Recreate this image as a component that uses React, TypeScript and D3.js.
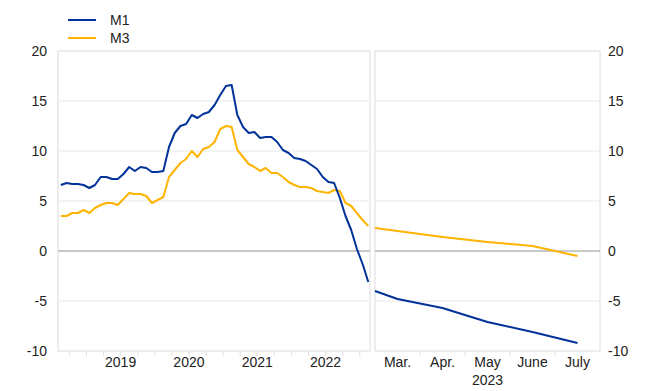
import React from 'react';
import * as d3 from 'd3';

// monthly annual growth rates, Aug 2018 - Feb 2023
const m1Monthly = [
  6.6, 6.8, 6.7, 6.7, 6.6,
  6.3, 6.6, 7.4, 7.4, 7.2, 7.2, 7.7, 8.4, 8.0, 8.4, 8.3, 7.9,
  7.9, 8.0, 10.4, 11.8, 12.5, 12.7, 13.6, 13.3, 13.7, 13.9, 14.6, 15.6,
  16.5, 16.6, 13.6, 12.4, 11.8, 11.9, 11.3, 11.4, 11.4, 10.9, 10.1, 9.8,
  9.3, 9.2, 9.0, 8.6, 8.2, 7.4, 6.9, 6.8, 5.3, 3.5, 2.1, 0.2,
  -1.3, -3.1,
];
const m3Monthly = [
  3.5, 3.5, 3.8, 3.8, 4.1,
  3.8, 4.3, 4.6, 4.8, 4.8, 4.6, 5.2, 5.8, 5.7, 5.7, 5.5, 4.8,
  5.1, 5.4, 7.4, 8.1, 8.8, 9.2, 10.0, 9.4, 10.2, 10.4, 10.9, 12.2,
  12.5, 12.4, 10.1, 9.4, 8.7, 8.4, 8.0, 8.3, 7.8, 7.8, 7.4, 6.9,
  6.6, 6.4, 6.4, 6.3, 6.0, 5.9, 5.8, 6.1, 6.0, 4.8, 4.5, 3.8,
  3.1, 2.5,
];
const years = ['2019', '2020', '2021', '2022'];

// 2023 panel (month number of the year)
const months2023 = [2.5, 3, 4, 5, 6, 7];
const m1Recent = [-4.0, -4.8, -5.7, -7.1, -8.1, -9.2];
const m3Recent = [2.3, 2.0, 1.4, 0.9, 0.5, -0.5];
const monthLabels = ['Mar.', 'Apr.', 'May', 'June', 'July'];

const yTicks = [-10, -5, 0, 5, 10, 15, 20];

const BLUE = '#003299';
const ORANGE = '#ffb400';
const FONT = 'Liberation Sans, Arial, sans-serif';

export default function App() {
  const width = 657;
  const height = 391;
  const top = 51;
  const bottom = 351;

  const y = d3.scaleLinear().domain([-10, 20]).range([bottom, top]);
  const xL = d3.scaleLinear().domain([-0.5, 54.3]).range([58, 370]);
  const xR = d3.scaleLinear().domain([2.5, 7.5]).range([375, 600]);

  const lineL = d3.line<number>().x((_, i) => xL(i)).y(d => y(d));
  const lineR = d3.line<number>().x((_, i) => xR(months2023[i])).y(d => y(d));

  // quarter ticks on the left panel: index of Jan/Apr/Jul/Oct (Aug 2018 = 0)
  const qTicks = d3.range(-0.5, 54.3, 1).filter(v => ((Math.round(v + 0.5) + 7) % 3) === 0);
  const rTicks = [3.5, 4.5, 5.5, 6.5];

  const panel = (x0: number, x1: number, key: string) => (
    <g key={key}>
      {yTicks.filter(t => t !== 0 && t !== 20 && t !== -10).map(t => (
        <line key={t} x1={x0} x2={x1} y1={y(t)} y2={y(t)} stroke="#f0f0f0" strokeWidth={1.5} />
      ))}
      <rect x={x0} y={top} width={x1 - x0} height={bottom - top} fill="none" stroke="#e8e8e8" strokeWidth={1.5} />
      <line x1={x0} x2={x1} y1={y(0)} y2={y(0)} stroke="#c8c8c8" strokeWidth={2} />
    </g>
  );

  return (
    <svg width={width} height={height} style={{ position: 'absolute', left: 0, top: 0 }} fontFamily={FONT}>
      <rect width={width} height={height} fill="#fff" />
      {panel(58, 370, 'l')}
      {panel(375, 600, 'r')}

      {qTicks.map(t => (
        <line key={t} x1={xL(t)} x2={xL(t)} y1={bottom} y2={bottom + 5} stroke="#e0e0e0" />
      ))}
      {rTicks.map(t => (
        <line key={t} x1={xR(t)} x2={xR(t)} y1={bottom} y2={bottom + 5} stroke="#e0e0e0" />
      ))}

      {yTicks.map(t => (
        <text key={'l' + t} x={47} y={y(t)} dy="0.35em" textAnchor="end" fontSize={14} fill="#222">{t}</text>
      ))}
      {yTicks.map(t => (
        <text key={'r' + t} x={608} y={y(t)} dy="0.35em" textAnchor="start" fontSize={14} fill="#222">{t}</text>
      ))}

      {years.map((yr, i) => (
        <text key={yr} x={xL(5 + 12 * i + 5.5)} y={367} textAnchor="middle" fontSize={14} fill="#222">{yr}</text>
      ))}
      {monthLabels.map((m, i) => (
        <text key={m} x={xR(3 + i)} y={367} textAnchor="middle" fontSize={14} fill="#222">{m}</text>
      ))}
      <text x={xR(5)} y={385} textAnchor="middle" fontSize={14} fill="#222">2023</text>

      <path d={lineL(m3Monthly) || ''} fill="none" stroke={ORANGE} strokeWidth={2} strokeLinejoin="round" />
      <path d={lineL(m1Monthly) || ''} fill="none" stroke={BLUE} strokeWidth={2} strokeLinejoin="round" />
      <path d={lineR(m3Recent) || ''} fill="none" stroke={ORANGE} strokeWidth={2} strokeLinejoin="round" />
      <path d={lineR(m1Recent) || ''} fill="none" stroke={BLUE} strokeWidth={2} strokeLinejoin="round" />

      <line x1={68} x2={96} y1={20} y2={20} stroke={BLUE} strokeWidth={2} />
      <text x={110} y={20} dy="0.35em" fontSize={14} fill="#222">M1</text>
      <line x1={68} x2={96} y1={38} y2={38} stroke={ORANGE} strokeWidth={2} />
      <text x={110} y={38} dy="0.35em" fontSize={14} fill="#222">M3</text>
    </svg>
  );
}
